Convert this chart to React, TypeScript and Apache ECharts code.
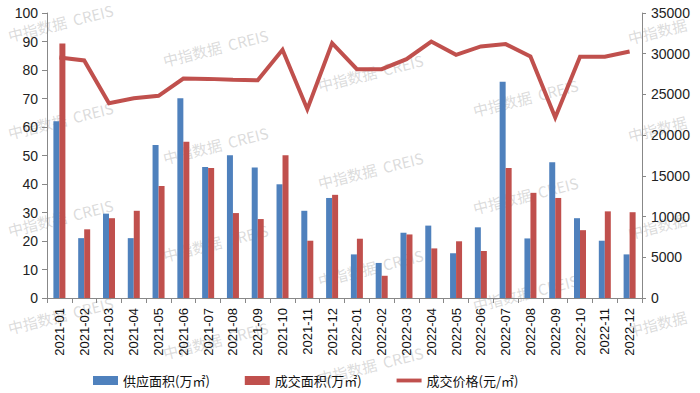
import React, { useEffect, useRef } from "react";
import * as echarts from "echarts";

const months = [
  "2021-01", "2021-02", "2021-03", "2021-04", "2021-05", "2021-06",
  "2021-07", "2021-08", "2021-09", "2021-10", "2021-11", "2021-12",
  "2022-01", "2022-02", "2022-03", "2022-04", "2022-05", "2022-06",
  "2022-07", "2022-08", "2022-09", "2022-10", "2022-11", "2022-12",
];
const supplyArea = [62, 21, 29.6, 21, 53.7, 70.1, 46, 50.1, 45.8, 39.9, 30.6, 35.1, 15.3, 12.3, 22.9, 25.4, 15.7, 24.8, 75.9, 20.9, 47.6, 28, 20.1, 15.3];
const dealArea = [89.3, 24.1, 28, 30.6, 39.3, 54.8, 45.6, 29.8, 27.7, 50.1, 20.1, 36.2, 20.8, 7.8, 22.3, 17.4, 19.9, 16.5, 45.6, 36.9, 35.1, 23.8, 30.4, 30.1];
const dealPrice = [29530, 29170, 23930, 24540, 24830, 26950, 26910, 26790, 26750, 30480, 23190, 31300, 28100, 28100, 29330, 31500, 29860, 30890, 31180, 29660, 22160, 29620, 29620, 30270];

const seriesNames = ["供应面积(万㎡)", "成交面积(万㎡)", "成交价格(元/㎡)"];
const watermarkFull = "中指数据  CREIS";
const watermarkShort = "中指数据";

const axisFont = "'Liberation Sans', Arial, sans-serif";
const cjkFont = "'Noto Sans CJK SC', sans-serif";

function buildWatermarks() {
  const els: any[] = [];
  const ang = (14 * Math.PI) / 180;
  for (let k = 0; k < 5; k++) {
    for (let j = -1; j < 4; j++) {
      const x = 10 + 155 * k;
      const y = 43 + 25 * k + 97.5 * j;
      const text = k === 4 ? watermarkShort : watermarkFull;
      const w = k === 4 ? 62 : 110;
      const top = y - w * Math.sin(ang) - 16;
      const right = x + w * Math.cos(ang);
      if (top < 0 || y > 392 || right > 699) continue;
      els.push({
        type: "text",
        x,
        y,
        rotation: ang,
        z: 0,
        silent: true,
        style: {
          text,
          fill: "rgba(170,170,170,0.42)",
          font: "15px 'Noto Sans CJK SC', sans-serif",
          verticalAlign: "bottom",
          align: "left",
        },
      });
    }
  }
  return els;
}

export default function App() {
  const ref = useRef<HTMLDivElement>(null);
  useEffect(() => {
    document.body.style.margin = "0";
    if (!ref.current) return;
    const chart = echarts.init(ref.current, undefined, { renderer: "svg" });
    const axisLine = { show: true, lineStyle: { color: "#888888", width: 1 } };
    chart.setOption({
      animation: false,
      backgroundColor: "#ffffff",
      graphic: buildWatermarks(),
      grid: { left: 47, right: 58, top: 13, bottom: 95, containLabel: false },
      legend: {
        left: 93,
        top: 374,
        padding: 0,
        itemWidth: 25,
        itemHeight: 9,
        itemGap: 35,
        textStyle: { fontSize: 13, color: "#111", fontFamily: cjkFont },
        data: [
          { name: seriesNames[0], icon: "rect" },
          { name: seriesNames[1], icon: "rect" },
          { name: seriesNames[2], icon: "path://M0,0 L26,0 L26,4 L0,4 Z" },
        ],
      },
      xAxis: {
        type: "category",
        data: months,
        boundaryGap: true,
        axisLine,
        axisTick: { show: true, length: 5, alignWithLabel: false, lineStyle: { color: "#888888" } },
        axisLabel: {
          interval: 0,
          rotate: 90,
          fontSize: 13,
          color: "#111",
          fontFamily: axisFont,
          margin: 10,
        },
        splitLine: { show: false },
      },
      yAxis: [
        {
          type: "value",
          min: 0,
          max: 100,
          interval: 10,
          axisLine,
          axisTick: { show: true, length: 5, lineStyle: { color: "#888888" } },
          axisLabel: { fontSize: 14, color: "#222", fontFamily: axisFont, margin: 9 },
          splitLine: { show: false },
        },
        {
          type: "value",
          min: 0,
          max: 35000,
          interval: 5000,
          position: "right",
          axisLine,
          axisTick: { show: true, length: 4, lineStyle: { color: "#888888" } },
          axisLabel: {
            fontSize: 14,
            color: "#222",
            fontFamily: axisFont,
            margin: 9,
            formatter: (v: number) => String(v),
          },
          splitLine: { show: false },
        },
      ],
      series: [
        {
          name: seriesNames[0],
          type: "bar",
          data: supplyArea,
          barWidth: 6,
          barGap: "0%",
          itemStyle: { color: "#4F81BD" },
          z: 2,
        },
        {
          name: seriesNames[1],
          type: "bar",
          data: dealArea,
          barWidth: 6,
          barGap: "0%",
          itemStyle: { color: "#C0504D" },
          z: 2,
        },
        {
          name: seriesNames[2],
          type: "line",
          yAxisIndex: 1,
          data: dealPrice,
          symbol: "none",
          showSymbol: false,
          lineStyle: { color: "#C0504D", width: 4, join: "miter" },
          itemStyle: { color: "#C0504D" },
          z: 3,
        },
      ],
    });
    return () => chart.dispose();
  }, []);
  return <div ref={ref} style={{ width: 700, height: 393 }} />;
}
